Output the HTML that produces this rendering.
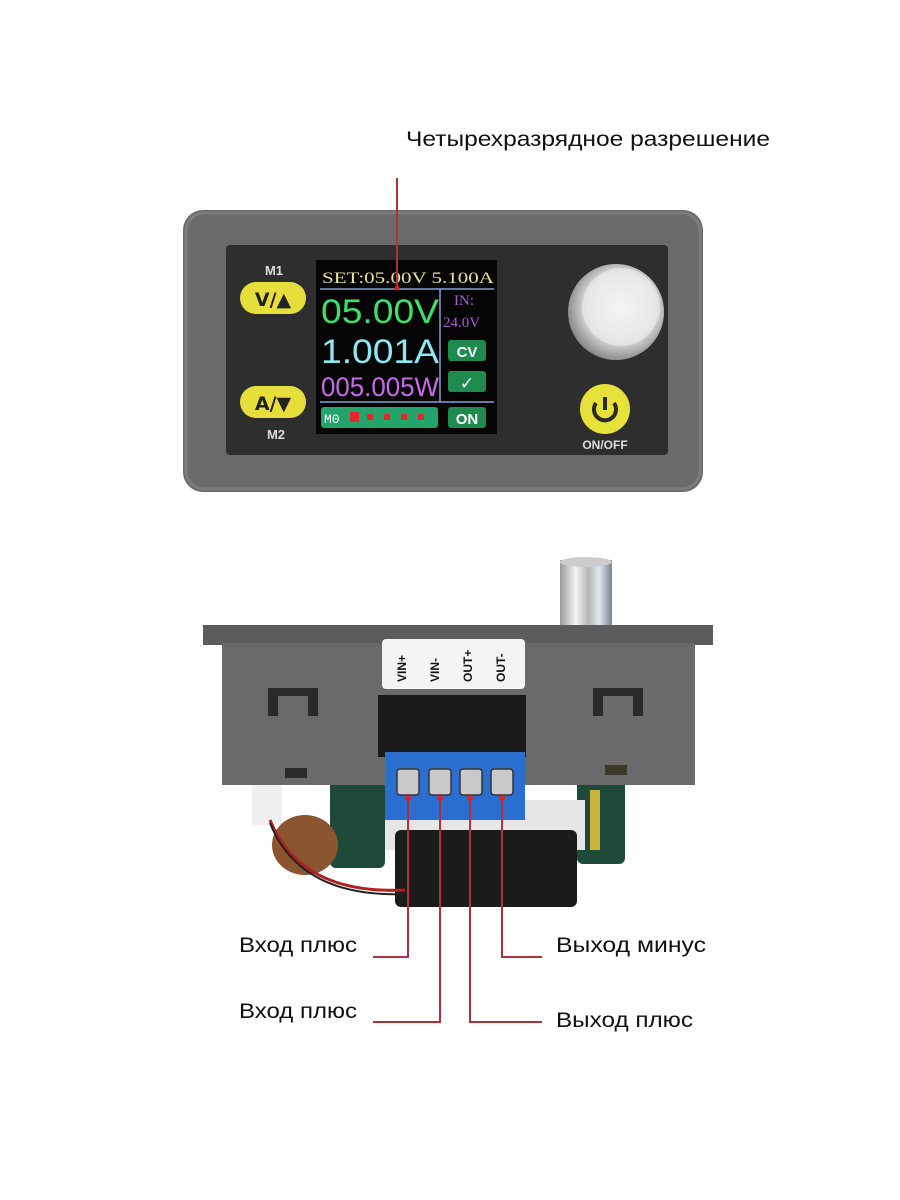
<!DOCTYPE html>
<html><head><meta charset="utf-8"><style>
html,body{margin:0;padding:0;background:#fff;}
svg{display:block;}
</style></head><body>
<svg width="900" height="1200" viewBox="0 0 900 1200" xmlns="http://www.w3.org/2000/svg">
<defs>
<radialGradient id="knob" cx="0.55" cy="0.45" r="0.6">
<stop offset="0" stop-color="#ffffff"/><stop offset="0.6" stop-color="#dcdcdc"/><stop offset="1" stop-color="#7a7a7a"/>
</radialGradient>
<linearGradient id="cyl" x1="0" x2="1">
<stop offset="0" stop-color="#9a9a9a"/><stop offset="0.3" stop-color="#f4f4f4"/><stop offset="0.55" stop-color="#b5b5b5"/><stop offset="0.75" stop-color="#e0e8f0"/><stop offset="1" stop-color="#7a8590"/>
</linearGradient>
</defs>
<rect width="900" height="1200" fill="#fff"/>
<text x="406" y="146" font-family="Liberation Sans, sans-serif" font-size="21" fill="#111" textLength="364" lengthAdjust="spacingAndGlyphs">Четырехразрядное разрешение</text>
<rect x="183" y="210" width="520" height="282" rx="20" fill="#6a6a6a"/>
<rect x="186" y="213" width="514" height="276" rx="18" fill="none" stroke="#7c7c7c" stroke-width="3"/>
<rect x="226" y="245" width="442" height="210" rx="4" fill="#2e2e2e"/>
<rect x="316" y="260" width="181" height="174" fill="#050505"/>
<text x="322" y="283" font-family="Liberation Serif, serif" font-size="16" fill="#e8e29a" textLength="172" lengthAdjust="spacingAndGlyphs">SET:05.00V 5.100A</text>
<line x1="320" y1="289" x2="494" y2="289" stroke="#8aa0d0" stroke-width="1.5"/>
<line x1="440" y1="289" x2="440" y2="402" stroke="#8aa0d0" stroke-width="1.5"/>
<line x1="320" y1="402" x2="494" y2="402" stroke="#8aa0d0" stroke-width="1.5"/>
<text x="321" y="323" font-family="Liberation Sans, sans-serif" font-size="34" fill="#3ee06a" textLength="118" lengthAdjust="spacingAndGlyphs">05.00V</text>
<text x="321" y="363" font-family="Liberation Sans, sans-serif" font-size="34" fill="#8ee8f4" textLength="118" lengthAdjust="spacingAndGlyphs">1.001A</text>
<text x="321" y="396" font-family="Liberation Sans, sans-serif" font-size="27" fill="#c86ae8" textLength="118" lengthAdjust="spacingAndGlyphs">005.005W</text>
<text x="454" y="305" font-family="Liberation Serif, serif" font-size="15" fill="#a85ad0">IN:</text>
<text x="443" y="327" font-family="Liberation Serif, serif" font-size="15" fill="#a85ad0">24.0V</text>
<rect x="448" y="340" width="38" height="21" rx="3" fill="#1f8a4e"/>
<text x="467" y="357" font-family="Liberation Sans, sans-serif" font-weight="bold" font-size="15" fill="#fff" text-anchor="middle">CV</text>
<rect x="448" y="371" width="38" height="21" rx="3" fill="#1f8a4e"/>
<text x="467" y="389" font-family="DejaVu Sans, sans-serif" font-weight="bold" font-size="17" fill="#fff" text-anchor="middle">✓</text>
<rect x="321" y="407" width="117" height="21" rx="3" fill="#24a36a"/>
<text x="324" y="423" font-family="Liberation Mono, monospace" font-size="13" fill="#fff">M0</text>
<rect x="350" y="412" width="9" height="10" fill="#e02a2a"/>
<rect x="367" y="414" width="6" height="6" fill="#e02a2a"/>
<rect x="384" y="414" width="6" height="6" fill="#e02a2a"/>
<rect x="401" y="414" width="6" height="6" fill="#e02a2a"/>
<rect x="418" y="414" width="6" height="6" fill="#e02a2a"/>
<rect x="448" y="407" width="38" height="21" rx="3" fill="#1f8a4e"/>
<text x="467" y="424" font-family="Liberation Sans, sans-serif" font-weight="bold" font-size="15" fill="#fff" text-anchor="middle">ON</text>
<text x="274" y="275" font-family="Liberation Sans, sans-serif" font-weight="bold" font-size="13" fill="#ddd" text-anchor="middle">M1</text>
<rect x="240" y="282" width="66" height="32" rx="16" fill="#e6de3a"/>
<text x="273" y="306" font-family="DejaVu Sans, sans-serif" font-weight="bold" font-size="19" fill="#222" text-anchor="middle">V/▲</text>
<rect x="240" y="386" width="66" height="32" rx="16" fill="#e6de3a"/>
<text x="273" y="410" font-family="DejaVu Sans, sans-serif" font-weight="bold" font-size="19" fill="#222" text-anchor="middle">A/▼</text>
<text x="276" y="439" font-family="Liberation Sans, sans-serif" font-weight="bold" font-size="13" fill="#ddd" text-anchor="middle">M2</text>
<circle cx="616" cy="312" r="48" fill="url(#knob)"/>
<circle cx="621" cy="307" r="39" fill="#eeeeee" opacity="0.6"/>
<circle cx="605" cy="409" r="25" fill="#e6e23a"/>
<path d="M596 403 A11 11 0 1 0 614 403" fill="none" stroke="#2a2a2a" stroke-width="4"/>
<line x1="605" y1="397" x2="605" y2="410" stroke="#2a2a2a" stroke-width="4"/>
<text x="605" y="449" font-family="Liberation Sans, sans-serif" font-weight="bold" font-size="12" fill="#ddd" text-anchor="middle">ON/OFF</text>
<line x1="397" y1="178" x2="397" y2="288" stroke="#b0303c" stroke-width="2"/>
<circle cx="397" cy="288" r="2.5" fill="#d02020"/>

<rect x="560" y="560" width="52" height="68" fill="url(#cyl)"/>
<ellipse cx="586" cy="562" rx="26" ry="5" fill="#ccc"/>
<rect x="330" y="780" width="55" height="88" rx="6" fill="#1f4a3a"/>
<rect x="577" y="778" width="48" height="86" rx="6" fill="#1f4a3a"/>
<rect x="590" y="790" width="10" height="60" fill="#c8b43a"/>
<rect x="385" y="800" width="200" height="50" fill="#e6e6e6"/>
<rect x="395" y="830" width="182" height="77" rx="6" fill="#1b1b1b"/>
<rect x="252" y="785" width="30" height="40" fill="#f0f0f0"/>
<ellipse cx="305" cy="845" rx="33" ry="30" fill="#8a5530"/>
<path d="M270 820 Q300 895 405 890" fill="none" stroke="#b02020" stroke-width="3"/>
<path d="M270 823 Q300 898 405 894" fill="none" stroke="#222" stroke-width="2"/>
<rect x="203" y="625" width="510" height="20" fill="#5c5c5c"/>
<rect x="222" y="643" width="473" height="142" fill="#6a6a6a"/>
<rect x="382" y="639" width="143" height="50" rx="4" fill="#f4f4f4"/>
<g font-family="Liberation Sans, sans-serif" font-weight="bold" font-size="12" fill="#111">
<text transform="translate(406,682) rotate(-90)">VIN+</text>
<text transform="translate(439,682) rotate(-90)">VIN-</text>
<text transform="translate(472,682) rotate(-90)">OUT+</text>
<text transform="translate(505,682) rotate(-90)">OUT-</text>
</g>
<rect x="378" y="695" width="148" height="62" fill="#1a1a1a"/>
<rect x="268" y="688" width="50" height="28" fill="#2a2a2a"/><rect x="278" y="696" width="30" height="20" fill="#6a6a6a"/>
<rect x="593" y="688" width="50" height="28" fill="#2a2a2a"/><rect x="603" y="696" width="30" height="20" fill="#6a6a6a"/>
<rect x="285" y="768" width="22" height="10" fill="#2a2a2a"/>
<rect x="605" y="765" width="22" height="10" fill="#3a3a2a"/>
<rect x="385" y="752" width="140" height="68" fill="#2a6fd0"/>
<g fill="#c9c9c9" stroke="#333" stroke-width="1.5">
<rect x="397" y="769" width="22" height="26" rx="3"/>
<rect x="429" y="769" width="22" height="26" rx="3"/>
<rect x="460" y="769" width="22" height="26" rx="3"/>
<rect x="491" y="769" width="22" height="26" rx="3"/>
</g>
<g stroke="#b0303c" stroke-width="2" fill="none">
<path d="M408 798 V957 H373"/>
<path d="M440 798 V1022 H373"/>
<path d="M470 798 V1022 H542"/>
<path d="M502 798 V957 H542"/>
</g>
<g fill="#e02020"><circle cx="408" cy="798" r="3"/><circle cx="440" cy="798" r="3"/><circle cx="470" cy="798" r="3"/><circle cx="502" cy="798" r="3"/></g>
<g font-family="Liberation Sans, sans-serif" font-size="21" fill="#111">
<text x="239" y="952" textLength="118" lengthAdjust="spacingAndGlyphs">Вход плюс</text>
<text x="239" y="1018" textLength="118" lengthAdjust="spacingAndGlyphs">Вход плюс</text>
<text x="556" y="952" textLength="150" lengthAdjust="spacingAndGlyphs">Выход минус</text>
<text x="556" y="1027" textLength="137" lengthAdjust="spacingAndGlyphs">Выход плюс</text>
</g>
</svg>
</body></html>
